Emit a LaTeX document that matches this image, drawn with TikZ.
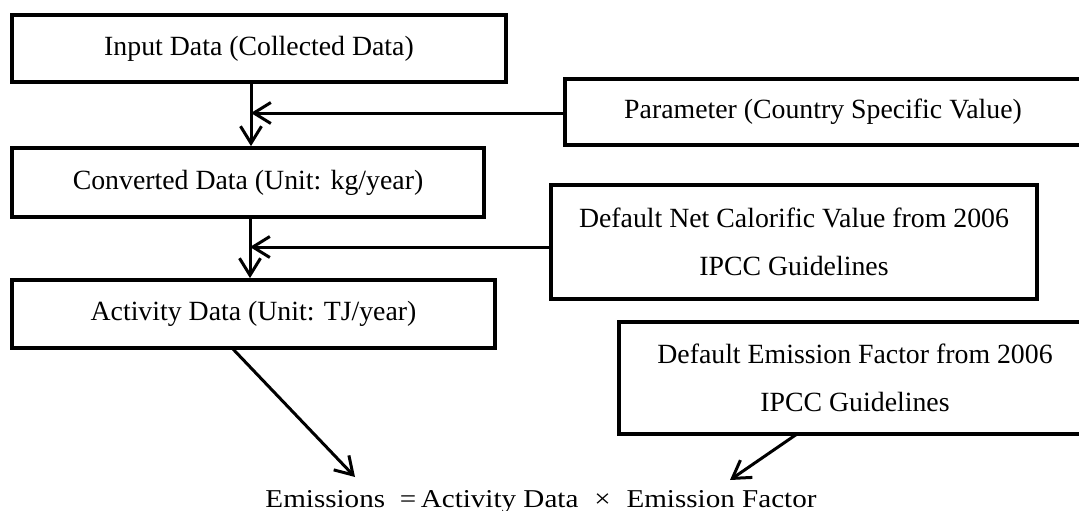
\documentclass[tikz,border=0pt]{standalone}
\usepackage{fontspec}
\setmainfont{Liberation Serif}
\usetikzlibrary{arrows.meta}

\newcommand{\boxfont}{\fontsize{27.8pt}{48pt}\selectfont}

\tikzset{
  stagebox/.style={draw, line width=3.8pt, inner sep=0pt, align=center, font=\boxfont},
  flow/.style={line width=3pt, -{Straight Barb[length=17pt, width=21pt, line width=3pt]}}
}

\begin{document}
\begin{tikzpicture}[x=1pt, y=-1pt]
  \useasboundingbox (0,0) rectangle (1079,511);
  \clip (0,0) rectangle (1079,511);
  \fill[white] (0,0) rectangle (1079,511);

  % left column: data conversion chain
  \node[stagebox, minimum width=494pt, minimum height=67pt] (input) at (259,48.5) {Input Data (Collected Data)};
  \node[stagebox, minimum width=472pt, minimum height=69pt] (conv) at (248,182.5) {Converted Data (Unit: kg/year)};
  \node[stagebox, minimum width=483pt, minimum height=68pt] (act) at (253.5,314) {Activity Data (Unit: TJ/year)};

  % right column: factors fed into the chain (right edges run off the page)
  \node[stagebox, minimum width=516pt, minimum height=66pt] (param) at (823,112) {Parameter (Country Specific Value)};
  \node[stagebox, minimum width=486pt, minimum height=114pt] (ncv) at (794,242) {Default Net Calorific Value from 2006\\IPCC Guidelines};
  \node[stagebox, minimum width=472pt, minimum height=112pt] (ef) at (855,378) {Default Emission Factor from 2006\\IPCC Guidelines};

  % resulting equation
  \node[anchor=base, inner sep=0pt, font=\fontsize{25.7pt}{30pt}\selectfont] (eq) at (541,507)
    {\resizebox{551pt}{\height}{Emissions\hspace{13pt}=\hspace{4pt}Activity Data\hspace{14pt}×\hspace{14pt}Emission Factor}};

  % junction points and free ends of the connectors
  \coordinate (j1) at (251,113);
  \coordinate (j2) at (250,247);
  \coordinate (actout) at (232,348);
  \coordinate (eqleft) at (355,477);
  \coordinate (efout) at (797,434);
  \coordinate (eqright) at (730,480);

  \draw[flow] (input.south -| j1) -- (conv.north -| j1);
  \draw[flow] (param.west |- j1) -- (j1);
  \draw[flow] (conv.south -| j2) -- (act.north -| j2);
  \draw[flow] (ncv.west |- j2) -- (j2);
  \draw[flow] (actout) -- (eqleft);
  \draw[flow] (efout) -- (eqright);
\end{tikzpicture}
\end{document}
